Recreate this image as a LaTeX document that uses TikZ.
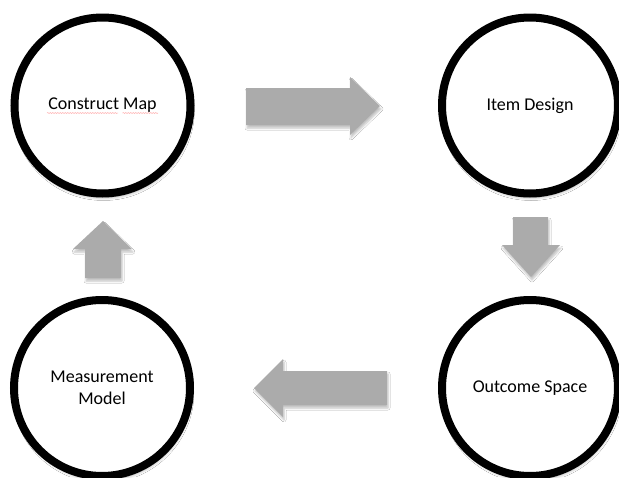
\documentclass[tikz,border=0pt]{standalone}
\usepackage{fontspec}
\setmainfont{Carlito}
\usetikzlibrary{shadows.blur,decorations.pathmorphing}
\begin{document}
\begin{tikzpicture}[x=1pt,y=-1pt,
  stage/.style={circle,draw=black,line width=8pt,fill=white,minimum size=176pt,inner sep=0pt,
    align=center,font=\fontsize{18}{22}\selectfont,
    blur shadow={shadow xshift=1pt,shadow yshift=-4pt,shadow blur steps=6,shadow opacity=35,shadow blur radius=3pt}},
  blockarrow/.style={fill=black!33,draw=none,
    blur shadow={shadow xshift=1pt,shadow yshift=-3pt,shadow blur steps=5,shadow opacity=25,shadow blur radius=2pt}},
  spell/.style={red!45,line width=0.4pt,decorate,decoration={snake,amplitude=0.4pt,segment length=2.5pt}}]
\useasboundingbox (0,0) rectangle (619,477);
\clip (0,0) rectangle (619,477);
\fill[white] (0,0) rectangle (619,477);
\node[stage] (cm) at (102.5,105.5) {Construct Map};
\node[stage] (id) at (530,105.5) {Item Design};
\node[stage] (os) at (530,388) {Outcome Space};
\node[stage] (mm) at (102,388) {Measurement\\Model};
% spell-check underline
\draw[spell] ([xshift=-55.5pt,yshift=-7.5pt]cm.center) -- ([xshift=15.5pt,yshift=-7.5pt]cm.center);
\draw[spell] ([xshift=20pt,yshift=-7.5pt]cm.center) -- ([xshift=55.5pt,yshift=-7.5pt]cm.center);
% block arrows
\path[blockarrow] (246,88) -- (350,88) -- (350,77) -- (380,106) -- (350,135) -- (350,125) -- (246,125) -- cycle;
\path[blockarrow] (513,217) -- (548,217) -- (548,245) -- (560,245) -- (531,277) -- (502,245) -- (513,245) -- cycle;
\path[blockarrow] (387,371) -- (283,371) -- (283,359) -- (254,388) -- (283,417) -- (283,405) -- (387,405) -- cycle;
\path[blockarrow] (85,278) -- (85,249) -- (73,249) -- (103,221) -- (132,249) -- (121,249) -- (121,278) -- cycle;
\end{tikzpicture}
\end{document}
